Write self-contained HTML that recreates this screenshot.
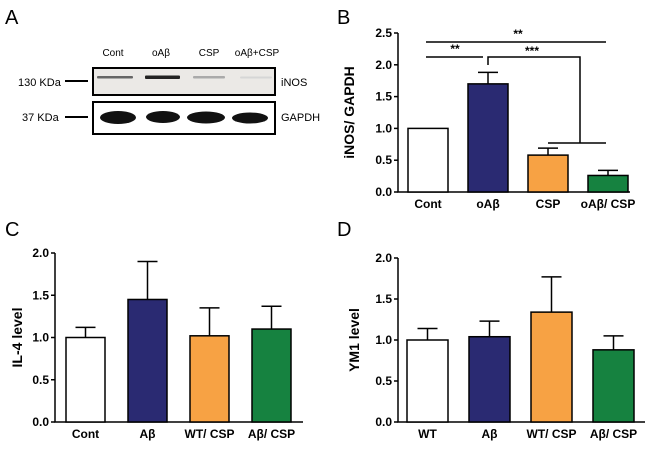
<!DOCTYPE html>
<html><head><meta charset="utf-8"><style>
body{margin:0;background:#fff}
svg{display:block;font-family:"Liberation Sans","DejaVu Sans",sans-serif}
.t{font-size:12px;font-weight:bold}
.ax{stroke:#000;stroke-width:1.5;fill:none}
</style></head><body>
<svg id="fig" width="650" height="449" viewBox="0 0 650 449">
<g>
<text x="5" y="24" font-size="20">A</text>
<g font-size="10">
<text x="113" y="56" text-anchor="middle">Cont</text>
<text x="161" y="56" text-anchor="middle">oAβ</text>
<text x="209" y="56" text-anchor="middle">CSP</text>
<text x="257" y="56" text-anchor="middle">oAβ+CSP</text>
<text x="18" y="86" font-size="11">130 KDa</text>
<text x="22" y="121" font-size="11">37 KDa</text>
<text x="281" y="86" font-size="11">iNOS</text>
<text x="281" y="121" font-size="11">GAPDH</text>
</g>
<line x1="65" y1="81" x2="88" y2="81" stroke="#000" stroke-width="2"/>
<line x1="65" y1="117" x2="88" y2="117" stroke="#000" stroke-width="2"/>
<rect x="93" y="68" width="182" height="27" fill="#ebe9e6" stroke="#000" stroke-width="2"/>
<rect x="93" y="102" width="182" height="32" fill="#fff" stroke="#000" stroke-width="2"/>
<rect x="97" y="76" width="36" height="2.5" fill="#666" rx="1"/>
<rect x="145" y="75.5" width="35" height="3.5" fill="#222" rx="1"/>
<rect x="193" y="76" width="32" height="2.5" fill="#aaa" rx="1"/>
<rect x="240" y="76.5" width="32" height="2" fill="#d6d6d6" rx="1"/>
<ellipse cx="118" cy="117.5" rx="18" ry="6.5" fill="#111"/>
<ellipse cx="163" cy="117" rx="17" ry="6" fill="#111"/>
<ellipse cx="206" cy="117.5" rx="19" ry="6" fill="#111"/>
<ellipse cx="250" cy="118" rx="18" ry="5.5" fill="#111"/>
</g>
<g id="charts"></g>
</svg>
<script>
const colors=["#ffffff","#2a2a72","#f7a244","#168240"];
const catsB=["Cont","oAβ","CSP","oAβ/ CSP"];
const valsB=[1.0,1.70,0.58,0.26];
const errB=[0,0.18,0.11,0.08];
const ticksB=["0.0","0.5","1.0","1.5","2.0","2.5"];
const catsC=["Cont","Aβ","WT/ CSP","Aβ/ CSP"];
const valsC=[1.0,1.45,1.02,1.10];
const errC=[0.12,0.45,0.33,0.27];
const ticksC=["0.0","0.5","1.0","1.5","2.0"];
const catsD=["WT","Aβ","WT/ CSP","Aβ/ CSP"];
const valsD=[1.0,1.04,1.34,0.88];
const errD=[0.14,0.19,0.43,0.17];
const ticksD=["0.0","0.5","1.0","1.5","2.0"];
const NS="http://www.w3.org/2000/svg";
const root=document.getElementById('charts');
function mk(tag,attrs,parent,text){const e=document.createElementNS(NS,tag);for(const k in attrs)e.setAttribute(k,attrs[k]);if(text!==undefined)e.textContent=text;parent.appendChild(e);return e;}
function chart(o){
  const g=mk('g',{},root);
  
  
  const ymax=parseFloat(o.ticks[o.ticks.length-1]);
  const y=v=>o.y0-(v/ymax)*(o.y0-o.y1);
  const x=i=>o.x0+i*o.step;
  const lbl=mk('text',{x:o.lx,y:o.ly,'font-size':20},g,o.letter);
  
  
  const ax=mk('path',{d:`M${o.ax} ${o.y1} V${o.y0} H${o.xend}`,class:'ax'},g);
  
  
  o.ticks.forEach(t=>{
    const v=parseFloat(t),yy=y(v);
    mk('line',{x1:o.ax-4,x2:o.ax,y1:yy,y2:yy,stroke:'#000','stroke-width':1.5},g);
    const tl=mk('text',{x:o.ax-6,y:yy+4,'text-anchor':'end',class:'t'},g,t);
    
    
  });
  const yt=mk('text',{transform:`translate(${o.ytx},${(o.y0+o.y1)/2}) rotate(-90)`,'text-anchor':'middle','font-size':14,'font-weight':'bold'},g,o.ytitle);
  
  
  o.cats.forEach((c,i)=>{
    const cx=x(i),top=y(o.vals[i]);
    if(o.errs[i]>0){const ye=y(o.vals[i]+o.errs[i]);
      const e1=mk('path',{d:`M${cx} ${top} V${ye} M${cx-10} ${ye} H${cx+10}`,stroke:'#000','stroke-width':1.5,fill:'none'},g);
      
      }
    const b=mk('rect',{x:cx-o.bw/2,y:top,width:o.bw,height:o.y0-top,fill:colors[i],stroke:'#000','stroke-width':1.5},g);
    
    
    const xl=mk('text',{x:cx,y:o.y0+16,'text-anchor':'middle',class:'t'},g,c);
    
    
  });
  return {g,x,y};
}
const B=chart({name:'panel-b-inos-chart',letter:'B',lx:337,ly:24,ax:398,y0:192,y1:33,xend:630,x0:428,step:60,bw:40,cats:catsB,vals:valsB,errs:errB,ticks:ticksB,ytitle:'iNOS/ GAPDH',ytx:354});
const sg=mk('g',{stroke:'#000','stroke-width':1.5,fill:'none'},B.g);


mk('path',{d:`M${B.x(0)-2} 42 H${B.x(3)-2}`},sg);
mk('path',{d:`M${B.x(0)-2} 57 H${B.x(1)-5}`},sg);
mk('path',{d:`M${B.x(1)} 65 V57 H${(B.x(2)+B.x(3))/2+2} V143`},sg);
mk('path',{d:`M${B.x(2)} 143 H${B.x(3)-2}`},sg);
mk('text',{x:(B.x(0)+B.x(3))/2,y:38,'text-anchor':'middle',class:'t'},B.g,'**');
mk('text',{x:(B.x(0)+B.x(1))/2-3,y:53,'text-anchor':'middle',class:'t'},B.g,'**');
mk('text',{x:(B.x(1)+B.x(2))/2+14,y:55,'text-anchor':'middle',class:'t'},B.g,'***');
chart({name:'panel-c-il4-chart',letter:'C',lx:5,ly:236,ax:55,y0:422,y1:253,xend:303,x0:85.5,step:62,bw:39,cats:catsC,vals:valsC,errs:errC,ticks:ticksC,ytitle:'IL-4 level',ytx:22});
chart({name:'panel-d-ym1-chart',letter:'D',lx:337,ly:236,ax:398,y0:422,y1:258,xend:645,x0:427.5,step:62,bw:41,cats:catsD,vals:valsD,errs:errD,ticks:ticksD,ytitle:'YM1 level',ytx:359});
</script>
</body></html>
